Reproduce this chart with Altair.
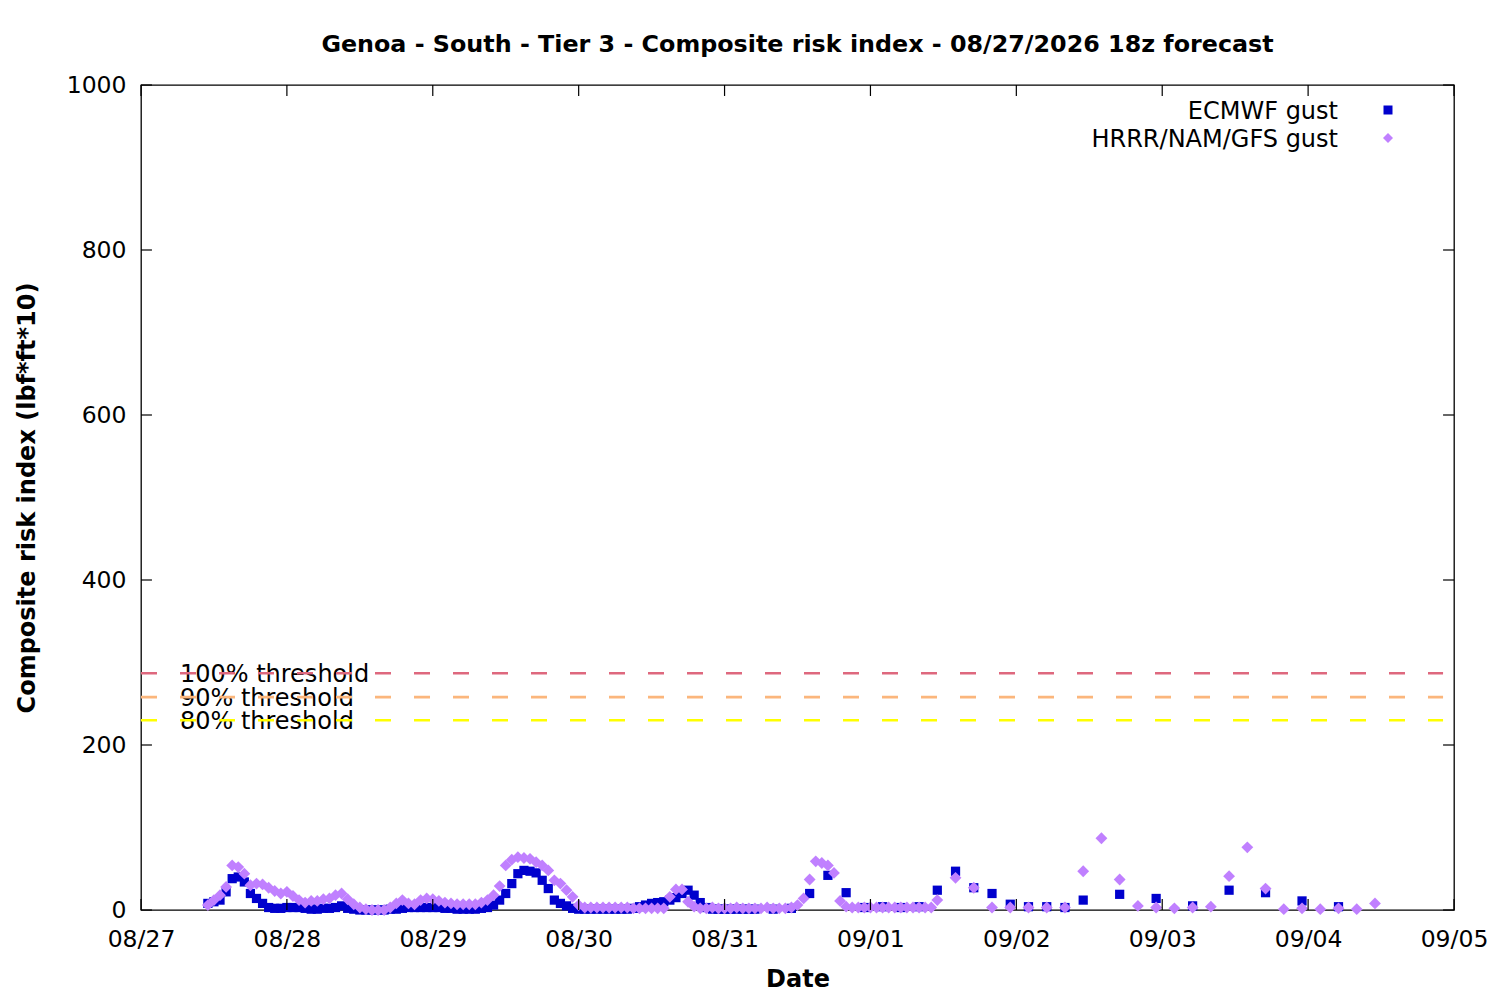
import json
import altair as alt
import pandas as pd

title_text = "Genoa - South - Tier 3 - Composite risk index - 08/27/2026 18z forecast"
x_title = "Date"
y_title = "Composite risk index (lbf*ft*10)"
day_labels = ["08/27", "08/28", "08/29", "08/30", "08/31", "09/01", "09/02", "09/03", "09/04", "09/05"]
y_ticks = [0, 200, 400, 600, 800, 1000]

series_names = ["ECMWF gust", "HRRR/NAM/GFS gust"]
series_colors = ["#0000cd", "#c080ff"]
series_shapes = ["square", "diamond"]
series_sizes = [85, 140]

# forecast valid times, hours after 08/27 00:00 (local)
ecmwf_hours = list(range(11, 102)) + list(range(104, 156, 3)) + list(range(161, 198, 6))
ecmwf_values = [
    8, 10, 12, 22, 38, 40, 34, 20, 14, 8,
    3, 2, 2, 3, 3, 3, 2, 1, 1, 2, 2, 3, 5, 2,
    1, 0, 0, 0, 0, 0, 1, 1, 2, 3, 3, 3, 3, 3, 3, 2, 2, 1, 1, 1, 1, 2,
    3, 6, 12, 20, 32, 44, 48, 47, 45, 36, 26, 12, 8, 5, 2, 1,
    1, 1, 1, 1, 1, 1, 1, 1,
    2, 4, 6, 8, 9, 10, 12, 15, 20, 24, 18, 9, 3,
    1, 1, 1, 1, 1, 1, 1, 1,
    # 3-hourly
    1, 2, 20, 42, 21, 3, 4, 3, 4, 24, 47, 27, 20, 7, 4, 4, 3, 12,
    # 6-hourly
    19, 14, 5, 24, 21, 11, 4,
]
hrrr_hours = list(range(11, 132)) + list(range(134, 204, 3))
hrrr_values = [
    6, 12, 18, 28, 54, 52, 44, 30, 32, 31, 27, 23, 20, 22, 17, 12, 9, 11, 11, 13,
    14, 18, 20, 13, 7, 3, 1,
    0, 0, 0,
    3, 8, 12, 8, 7, 12, 14, 13, 11, 9, 8, 7, 7, 7, 7, 9,
    12, 18, 29, 54, 61, 64, 63, 62, 58, 54, 48, 36, 32, 24, 16, 6,
    3, 3, 3, 3, 3, 3, 3, 3,
    2, 2, 2, 2, 2, 2,
    16, 25, 25, 10, 4,
    2, 2, 3, 2, 2, 2, 3, 2, 2, 2, 2, 3, 2, 2, 2, 3,
    6, 14, 37, 59, 57, 54, 45, 11, 4,
    3, 3, 3, 3, 3, 3, 3, 3, 3, 3, 3, 3, 3, 3,
    12,
    # 3-hourly
    39, 27, 3, 3, 3, 3, 3, 47, 87, 37, 5, 3, 2, 3, 4, 41, 76, 26, 1, 2, 1, 2, 1, 8,
]

threshold_names = ["100% threshold", "90% threshold", "80% threshold"]
threshold_values = [287, 258, 230]
threshold_colors = ["#de687e", "#fbb67c", "#ffff00"]
threshold_label_hour = 6.4
threshold_end_hour = 214.2

FONT = "DejaVu Sans"
x_end = 24 * (len(day_labels) - 1)
tick_x_len = 1.8     # hours (inward tick length)
tick_y_len = 13.3    # index units (inward tick length)

pts = pd.DataFrame(
    {"h": ecmwf_hours, "v": ecmwf_values, "series": series_names[0]}
)
pts = pd.concat(
    [pts, pd.DataFrame({"h": hrrr_hours, "v": hrrr_values, "series": series_names[1]})],
    ignore_index=True,
)
pts["order"] = range(len(pts))

thr = pd.DataFrame({
    "name": threshold_names,
    "v": threshold_values,
    "col": threshold_colors,
    "h": [0] * 3,
    "h2": [threshold_end_hour] * 3,
    "hl": [threshold_label_hour] * 3,
})

day_hours = [24 * i for i in range(len(day_labels))]
xt = pd.DataFrame({
    "h": day_hours * 2,
    "v": [0] * len(day_hours) + [1000] * len(day_hours),
    "v2": [tick_y_len] * len(day_hours) + [1000 - tick_y_len] * len(day_hours),
})
yt = pd.DataFrame({
    "v": y_ticks * 2,
    "h": [0] * len(y_ticks) + [x_end] * len(y_ticks),
    "h2": [tick_x_len] * len(y_ticks) + [x_end - tick_x_len] * len(y_ticks),
})

# key (gnuplot style: text on the left, symbol on the right), pixel rows in the plot area
key = pd.DataFrame({
    "series": series_names,
    "row": [25 + 28 * i for i in range(len(series_names))],
    "ksize": [81, 100],
})

label_expr = json.dumps(day_labels) + "[round(datum.value / 24)]"

xscale = alt.Scale(domain=[0, x_end], nice=False, zero=False)
yscale = alt.Scale(domain=[0, 1000], nice=False)
xaxis = alt.Axis(values=day_hours, labelExpr=label_expr, title=x_title,
                 labelPadding=17, titlePadding=17, labelFlush=False)
yaxis = alt.Axis(values=y_ticks, format="d", title=y_title, labelPadding=15, titlePadding=27)

X = alt.X("h:Q", scale=xscale, axis=xaxis)
Y = alt.Y("v:Q", scale=yscale, axis=yaxis)

color_enc = alt.Color("series:N", scale=alt.Scale(domain=series_names, range=series_colors), legend=None)
shape_enc = alt.Shape("series:N", scale=alt.Scale(domain=series_names, range=series_shapes), legend=None)

thr_lines = alt.Chart(thr).mark_rule(strokeDash=[16, 23], strokeWidth=2.6).encode(
    x=X, x2="h2:Q", y=Y,
    color=alt.Color("col:N", scale=None),
)
thr_text = alt.Chart(thr).mark_text(
    align="left", baseline="middle", font=FONT, fontSize=24, color="black", dy=2
).encode(
    x=alt.X("hl:Q", scale=xscale, axis=xaxis), y=Y, text="name:N"
)

points = alt.Chart(pts).mark_point(filled=True, opacity=1, strokeWidth=0).encode(
    x=X, y=Y,
    color=color_enc,
    shape=shape_enc,
    size=alt.Size("series:N", scale=alt.Scale(domain=series_names, range=series_sizes), legend=None),
    order=alt.Order("order:Q"),
)

key_text = alt.Chart(key).mark_text(
    align="right", baseline="middle", font=FONT, fontSize=24, color="black", dy=2
).encode(
    x=alt.value(1197), y=alt.Y("row:Q", scale=None), text="series:N"
)
key_sym = alt.Chart(key).mark_point(filled=True, opacity=1, strokeWidth=0).encode(
    x=alt.value(1247), y=alt.Y("row:Q", scale=None), color=color_enc, shape=shape_enc,
    size=alt.Size("ksize:Q", scale=None, legend=None),
)

xticks = alt.Chart(xt).mark_rule(color="black", strokeWidth=1.2).encode(x=X, y=Y, y2="v2:Q")
yticks = alt.Chart(yt).mark_rule(color="black", strokeWidth=1.2).encode(x=X, x2="h2:Q", y=Y)

chart = alt.layer(thr_text, thr_lines, points, xticks, yticks, key_text, key_sym).properties(
    width=1313,
    height=825,
    autosize=alt.AutoSizeParams(type="none"),
    padding={"left": 133, "top": 77, "right": 38, "bottom": 82},
    background="white",
    title=alt.TitleParams(
        text=title_text, font=FONT, fontSize=23.8, fontWeight="bold", color="black",
        anchor="middle", frame="group", offset=16,
    ),
).configure_axis(
    domain=False, ticks=False, grid=False,
    labelFont=FONT, labelFontSize=23.5, labelColor="black",
    titleFont=FONT, titleFontSize=24, titleFontWeight="bold", titleColor="black",
).configure_view(
    stroke="black", strokeWidth=1.3
)

chart.save("out.html", embed_options={"renderer": "svg", "actions": False})
